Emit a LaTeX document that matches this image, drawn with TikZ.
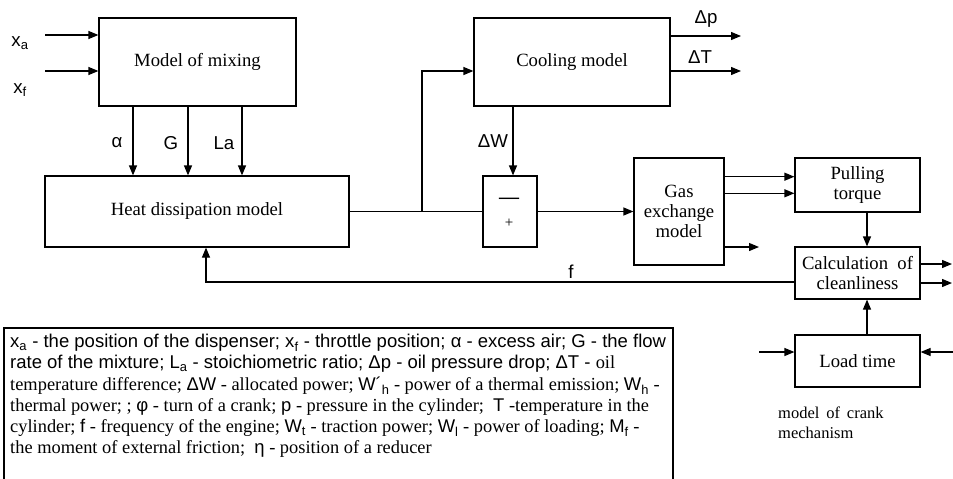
\documentclass[tikz,border=0pt]{standalone}
\usepackage{fontspec}
\setmainfont{Liberation Serif}
\newfontfamily\ar{Liberation Sans}
\usetikzlibrary{arrows.meta}
\tikzset{
  blk/.style={draw, line width=1.2pt, inner sep=0pt, align=center, font=\fontsize{18.67}{21}\selectfont},
  arr/.style={line width=1.2pt, -{Triangle[length=10pt,width=8pt]}},
  ln/.style={line width=1.2pt},
  lbl/.style={font=\ar\fontsize{18.67}{21}\selectfont, inner sep=0pt},
  leg/.style={anchor=west, inner sep=0pt, font=\fontsize{18.4}{21}\selectfont},
  legar/.style={anchor=west, inner sep=0pt, font=\ar\fontsize{18.5}{21}\selectfont},
}
\newcommand{\mysb}[1]{\textsubscript{#1}}
\begin{document}
\begin{tikzpicture}[x=1pt,y=-1pt]
\useasboundingbox (0,0) rectangle (953,479);
% blocks
\node[blk, minimum width=197pt, minimum height=88pt] (mix) at (197.5,62) {Model of mixing};
\node[blk, minimum width=304pt, minimum height=71pt] (heat) at (197,211.5) {Heat dissipation model};
\node[blk, minimum width=196pt, minimum height=88pt] (cool) at (572,62) {Cooling model};
\node[blk, minimum width=54pt, minimum height=71pt] (sum) at (510,211.5) {};
\node[inner sep=0pt, font=\fontsize{20}{21}\selectfont\bfseries] (minus) at (509,201) {—};
\node[inner sep=0pt, font=\fontsize{15}{16}\selectfont] (plus) at (509,223) {+};
\node[blk, minimum width=90pt, minimum height=107pt, font=\fontsize{18.67}{20}\selectfont] (gas) at (679,211.5) {Gas\\exchange\\model};
\node[blk, minimum width=125pt, minimum height=54pt, font=\fontsize{18.67}{20}\selectfont] (pull) at (857.5,185) {Pulling\\torque};
\node[blk, minimum width=125pt, minimum height=52pt, font=\fontsize{18.67}{20}\selectfont] (calc) at (857.5,273) {Calculation\ \ of\\cleanliness};
\node[blk, minimum width=125pt, minimum height=52pt] (load) at (857.5,361) {Load time};
% helper coordinates
\coordinate (xa) at (45,35);
\coordinate (xf) at (45,71);
\coordinate (ca) at (133,0);
\coordinate (cg) at (188,0);
\coordinate (cl) at (242,0);
\coordinate (br) at (422,211.5);
\coordinate (bt) at (422,71);
\coordinate (dp) at (741,36);
\coordinate (dt) at (741,71);
\coordinate (cw) at (513,0);
\coordinate (g1) at (0,176.7);
\coordinate (g2) at (0,193.3);
\coordinate (g3) at (759,247);
\coordinate (cx) at (867,0);
\coordinate (o1) at (952,264);
\coordinate (o2) at (952,283);
\coordinate (fy) at (0,282);
\coordinate (fc) at (206,282);
\coordinate (li) at (759,352);
\coordinate (ri) at (953,352);
% connectors
\draw[arr] (xa) -- (xa -| mix.west);
\draw[arr] (xf) -- (xf -| mix.west);
\draw[arr] (ca |- mix.south) -- (ca |- heat.north);
\draw[arr] (cg |- mix.south) -- (cg |- heat.north);
\draw[arr] (cl |- mix.south) -- (cl |- heat.north);
\draw[ln] (heat.east) -- (sum.west);
\draw[arr] (br) -- (bt) -- (bt -| cool.west);
\draw[arr] (dp -| cool.east) -- (dp);
\draw[arr] (dt -| cool.east) -- (dt);
\draw[arr] (cw |- cool.south) -- (cw |- sum.north);
\draw[arr] (sum.east) -- (gas.west);
\draw[arr] (g1 -| gas.east) -- (g1 -| pull.west);
\draw[arr] (g2 -| gas.east) -- (g2 -| pull.west);
\draw[arr] (g3 -| gas.east) -- (g3);
\draw[arr] (cx |- pull.south) -- (cx |- calc.north);
\draw[arr] (o1 -| calc.east) -- (o1);
\draw[arr] (o2 -| calc.east) -- (o2);
\draw[arr] (fy -| calc.west) -- (fc) -- (fc |- heat.south);
\draw[arr] (cx |- load.north) -- (cx |- calc.south);
\draw[arr] (li) -- (li -| load.west);
\draw[arr] (ri) -- (ri -| load.east);
% labels
\node[lbl] (lxa) at (20,43) {x\mysb{a}};
\node[lbl] (lxf) at (20,90) {x\mysb{f}};
\node[lbl] (lal) at (117,143) {α};
\node[lbl] (lg) at (171,143) {G};
\node[lbl] (lla) at (224,143) {La};
\node[lbl] (ldw) at (493,141) {ΔW};
\node[lbl] (ldp) at (706,19) {Δp};
\node[lbl] (ldt) at (700,57) {ΔT};
\node[lbl] (lf) at (571,272) {f};
\node[anchor=west, inner sep=0pt, align=left, font=\fontsize{16.5}{20}\selectfont] (crank) at (778,423) {model\, of\, crank\\mechanism};
% legend
\draw[ln] (4,479) -- (4,328) -- (673,328) -- (673,479);
\node[legar] (l1) at (10,343) {x\mysb{a} - the position of the dispenser; x\mysb{f} - throttle position; α - excess air; G - the flow};
\node[legar] (l2) at (10,364) {rate of the mixture; L\mysb{a} - stoichiometric ratio; Δp - oil pressure drop; ΔT - {\rmfamily\fontsize{18.4}{21}\selectfont oil}};
\node[leg] (l3) at (10,386) {temperature difference; {\ar ΔW} - allocated power; {\ar W´\mysb{h}} - power of a thermal emission; {\ar W\mysb{h}} -};
\node[leg] (l4) at (10,407) {thermal power; ; {\ar φ} - turn of a crank; {\ar p} - pressure in the cylinder;\ \ {\ar T} -temperature in the};
\node[leg] (l5) at (10,428) {cylinder; {\ar f} - frequency of the engine; {\ar W\mysb{t}} - traction power; {\ar W\mysb{l}} - power of loading; {\ar M\mysb{f}} -};
\node[leg] (l6) at (10,449) {the moment of external friction;\ \ {\ar η} - position of a reducer};
\end{tikzpicture}
\end{document}
